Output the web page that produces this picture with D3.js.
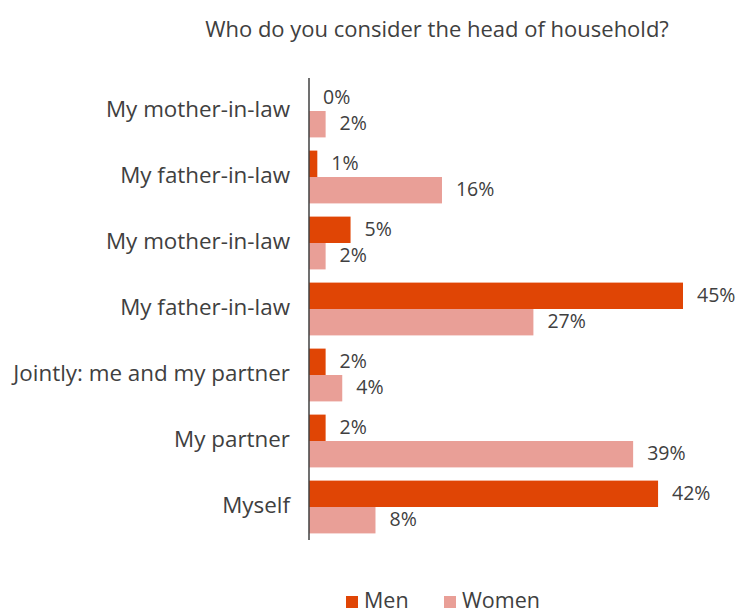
<!DOCTYPE html>
<html>
<head>
<meta charset="utf-8">
<script src="https://cdn.jsdelivr.net/npm/d3@7"></script>
<style>
body{margin:0;background:#fff;}
text{font-family:"Open Sans",sans-serif;fill:#404040;}
</style>
</head>
<body>
<div id="chart"></div>
<script>
var width = 736;
var height = 616;

var categories = ["My mother-in-law", "My father-in-law", "My mother-in-law", "My father-in-law",
                  "Jointly: me and my partner", "My partner", "Myself"];
var men = [0, 1, 5, 45, 2, 2, 42];
var women = [2, 16, 2, 27, 4, 39, 8];
var seriesNames = ["Men", "Women"];
var colors = ["#e04505", "#e99f97"];

var svg = d3.select("#chart")
            .append("svg")
            .attr("width", width)
            .attr("height", height);

var x = d3.scaleLinear()
            .domain([0, 45])
            .range([309, 683]);

var y = d3.scaleBand()
            .domain(d3.range(categories.length))
            .range([78, 540])
            .paddingInner(0.2)
            .paddingOuter(0.1);

var ySub = d3.scaleBand()
            .domain([0, 1])
            .range([0, y.bandwidth()]);

// title
svg.append("text")
    .attr("x", 437)
    .attr("y", 37)
    .attr("text-anchor", "middle")
    .style("font-size", "22px")
    .text("Who do you consider the head of household?");

var rows = svg.selectAll("g.row")
    .data(categories)
    .enter()
    .append("g")
    .attr("class", "row")
    .attr("transform", function(d, i){ return "translate(0," + y(i) + ")"; });

rows.append("text")
    .attr("x", 290)
    .attr("y", y.bandwidth() / 2 - 2)
    .attr("dy", "0.35em")
    .attr("text-anchor", "end")
    .style("font-size", "22.4px")
    .text(function(d){ return d; });

[men, women].forEach(function(vals, s){
    rows.append("rect")
        .attr("x", x(0))
        .attr("y", ySub(s))
        .attr("width", function(d, i){ return x(vals[i]) - x(0); })
        .attr("height", ySub.bandwidth())
        .attr("fill", colors[s]);

    rows.append("text")
        .attr("x", function(d, i){ return x(vals[i]) + 14; })
        .attr("y", ySub(s) + ySub.bandwidth() / 2 - 1)
        .attr("dy", "0.35em")
        .style("font-size", "19.5px")
        .text(function(d, i){ return vals[i] + "%"; });
});

// axis line
svg.append("line")
    .attr("x1", x(0)).attr("x2", x(0))
    .attr("y1", 78).attr("y2", 540)
    .attr("stroke", "#404040")
    .attr("stroke-width", 1.5);

// legend
var legendX = [346, 444];
var legend = svg.selectAll("g.legend")
    .data(seriesNames)
    .enter()
    .append("g")
    .attr("class", "legend")
    .attr("transform", function(d, i){ return "translate(" + legendX[i] + ",594)"; });

legend.append("rect")
    .attr("y", 2)
    .attr("width", 12)
    .attr("height", 12)
    .attr("fill", function(d, i){ return colors[i]; });

legend.append("text")
    .attr("x", 18)
    .attr("y", 6)
    .attr("dy", "0.35em")
    .style("font-size", "21.5px")
    .text(function(d){ return d; });
</script>
</body>
</html>
